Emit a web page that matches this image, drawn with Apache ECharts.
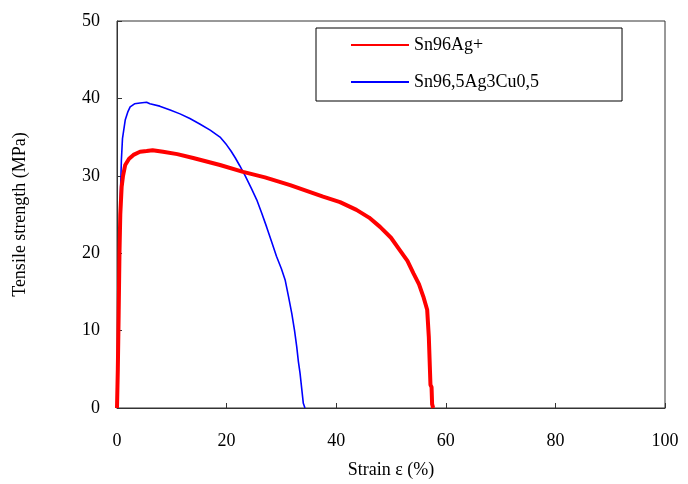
<!DOCTYPE html>
<html><head><meta charset="utf-8">
<script src="https://cdn.jsdelivr.net/npm/echarts@6/dist/echarts.min.js"></script>
<style>html,body{margin:0;padding:0;background:#fff}#c{width:688px;height:484px}</style>
</head><body><div id="c"></div>
<script>
const seriesNames = ['Sn96Ag+', 'Sn96,5Ag3Cu0,5'];
const xTicks = [0, 20, 40, 60, 80, 100];
const yTicks = [0, 10, 20, 30, 40, 50];
const redStrain = [0, 0.15, 0.3, 0.45, 0.6, 0.85, 1.1, 1.5, 2.2, 3.0, 4.2, 5.4, 6.5, 8.4, 11.0, 13.9, 18.8, 23.0, 27.0, 31.6, 37.6, 40.7, 43.7, 46.0, 48.0, 50.0, 51.6, 53.0, 54.1, 55.1, 55.9, 56.6, 56.9, 57.1, 57.2, 57.4, 57.5, 57.7];
const redStress = [0, 5, 12, 20, 25, 28.6, 30.0, 31.4, 32.2, 32.7, 33.1, 33.2, 33.3, 33.1, 32.8, 32.3, 31.4, 30.5, 29.8, 28.8, 27.3, 26.6, 25.6, 24.6, 23.4, 22.0, 20.4, 19.0, 17.4, 16.0, 14.4, 12.7, 9.2, 9.0, 3.0, 2.7, 0.5, 0];
const blueStrain = [0, 0.2, 0.4, 0.6, 0.8, 1.0, 1.5, 2.0, 2.4, 3.2, 4.2, 5.4, 6.0, 7.8, 9.7, 11.5, 13.3, 15.1, 17.0, 18.8, 20.0, 20.8, 21.6, 22.4, 23.4, 24.5, 25.5, 26.4, 27.3, 28.2, 29.1, 30.0, 30.7, 31.3, 31.9, 32.4, 32.8, 33.1, 33.4, 34.0, 34.3];
const blueStress = [0, 10, 20, 27, 32, 34.8, 37.2, 38.3, 38.9, 39.3, 39.4, 39.5, 39.3, 39.0, 38.5, 38.0, 37.4, 36.7, 35.9, 35.0, 34.0, 33.2, 32.3, 31.3, 30.0, 28.4, 26.9, 25.2, 23.4, 21.5, 19.6, 18.0, 16.5, 14.4, 12.2, 10.0, 7.9, 6.0, 4.5, 0.6, 0];

const zip = (a, b) => a.map((v, i) => [v, b[i]]);
const font = 'Liberation Serif';
const chart = echarts.init(document.getElementById('c'));
chart.setOption({
  animation: false,
  backgroundColor: '#fff',
  grid: {left: 117, right: 23, top: 21, bottom: 73, show: true, borderColor: '#333', borderWidth: 1},
  legend: {
    orient: 'vertical', left: 316, top: 28,
    padding: [8, 83, 10, 34], itemGap: 19, itemWidth: 58, itemHeight: 18,
    borderColor: '#000', borderWidth: 1, backgroundColor: '#fff',
    itemStyle: {opacity: 0},
    textStyle: {fontFamily: font, fontSize: 18, color: '#000'},
    data: seriesNames
  },
  xAxis: {
    type: 'value', min: 0, max: 100, interval: 20,
    name: 'Strain ε (%)', nameLocation: 'middle', nameGap: 53,
    nameTextStyle: {fontFamily: font, fontSize: 18, color: '#000'},
    axisLine: {lineStyle: {color: '#333'}},
    axisTick: {inside: true, length: 5, lineStyle: {color: '#333'}},
    axisLabel: {fontFamily: font, fontSize: 18, color: '#000', margin: 24,
      formatter: v => xTicks.includes(v) ? String(v) : ''},
    splitLine: {show: false}
  },
  yAxis: {
    type: 'value', min: 0, max: 50, interval: 10,
    name: 'Tensile strength (MPa)', nameLocation: 'middle', nameGap: 88,
    nameTextStyle: {fontFamily: font, fontSize: 18, color: '#000'},
    axisLine: {show: true, lineStyle: {color: '#333'}},
    axisTick: {show: true, inside: true, length: 5, lineStyle: {color: '#333'}},
    axisLabel: {fontFamily: font, fontSize: 18, color: '#000', margin: 17,
      formatter: v => yTicks.includes(v) ? String(v) : ''},
    splitLine: {show: false}
  },
  series: [
    {name: seriesNames[0], type: 'line', data: zip(redStrain, redStress), symbol: 'none',
     lineStyle: {color: '#ff0000', width: 4}, itemStyle: {color: '#ff0000'}, z: 3},
    {name: seriesNames[1], type: 'line', data: zip(blueStrain, blueStress), symbol: 'none',
     lineStyle: {color: '#0000ff', width: 1.6}, itemStyle: {color: '#0000ff'}, z: 2}
  ]
});
</script></body></html>
